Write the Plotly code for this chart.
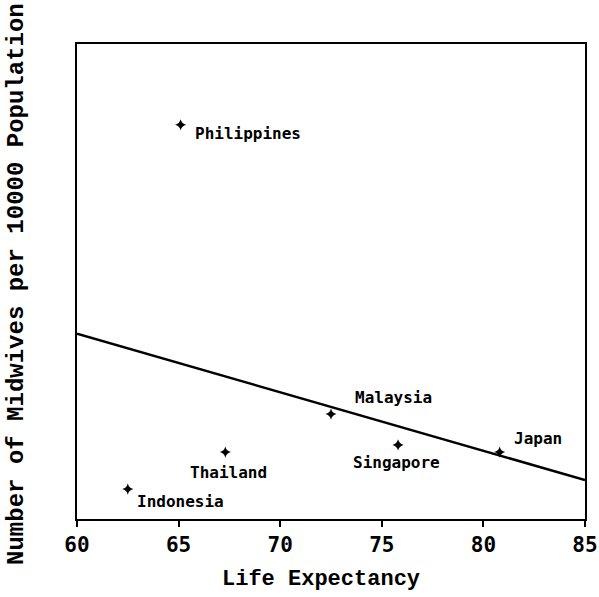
import numpy as np
import plotly.graph_objects as go

# Life expectancy vs. midwives per 10000 population
countries = ["Philippines", "Indonesia", "Thailand", "Malaysia", "Singapore", "Japan"]
life_expectancy = [65.1, 62.5, 67.3, 72.5, 75.8, 80.8]
midwives = [8.3, 0.63, 1.41, 2.21, 1.56, 1.41]
x_ticks = [60, 65, 70, 75, 80, 85]

# label placement (pixel offsets from each point)
label_anchor = ["left", "left", "center", "left", "center", "left"]
label_dx = [12, 7, 3, 22, -2, 12]
label_dy = [-9, -12, -20, 17, -18, 14]

# least-squares regression line across the full axis
slope, intercept = np.polyfit(life_expectancy, midwives, 1)
line_x = [x_ticks[0], x_ticks[-1]]
line_y = [slope * v + intercept for v in line_x]

mono = "Liberation Mono"
label_font = dict(family="DejaVu Sans Mono", size=16, color="black", weight="bold")

fig = go.Figure()
fig.add_trace(go.Scatter(x=line_x, y=line_y, mode="lines",
                         line=dict(color="black", width=2.5), hoverinfo="skip"))
fig.add_trace(go.Scatter(x=life_expectancy, y=midwives, mode="markers",
                         marker=dict(symbol="star-diamond", size=8, color="black"),
                         text=countries))

annotations = []
for name, x, y, a, dx, dy in zip(countries, life_expectancy, midwives,
                                 label_anchor, label_dx, label_dy):
    annotations.append(dict(x=x, y=y, xref="x", yref="y", text=name, showarrow=False,
                            xanchor=a, yanchor="middle", xshift=dx, yshift=dy,
                            font=label_font))
annotations.append(dict(x=0.48, y=-0.128, xref="paper", yref="paper",
                        text="Life Expectancy", showarrow=False,
                        xanchor="center", yanchor="middle",
                        font=dict(family=mono, size=22, color="black", weight="bold")))
annotations.append(dict(x=-0.118, y=0.495, xref="paper", yref="paper",
                        text="Number of Midwives per 10000 Population", showarrow=False,
                        textangle=-90, xanchor="center", yanchor="middle",
                        font=dict(family=mono, size=24, color="black", weight="bold")))

fig.update_layout(
    width=599, height=597,
    margin=dict(l=77, r=14, t=44, b=78, autoexpand=False),
    paper_bgcolor="white", plot_bgcolor="white",
    showlegend=False,
    annotations=annotations,
    xaxis=dict(range=[60, 85], tickvals=x_ticks, ticktext=[str(t) for t in x_ticks],
               automargin=False,
               showgrid=False, zeroline=False, showline=True, linecolor="black",
               linewidth=2, mirror=True, ticks="outside", ticklen=6, tickwidth=2,
               tickcolor="black",
               tickfont=dict(family="DejaVu Sans Mono", size=21, color="black",
                             weight="bold")),
    yaxis=dict(range=[0, 10], showticklabels=False, showgrid=False, zeroline=False,
               automargin=False,
               showline=True, linecolor="black", linewidth=2, mirror=True, ticks=""),
)

fig.write_html("out.html")
